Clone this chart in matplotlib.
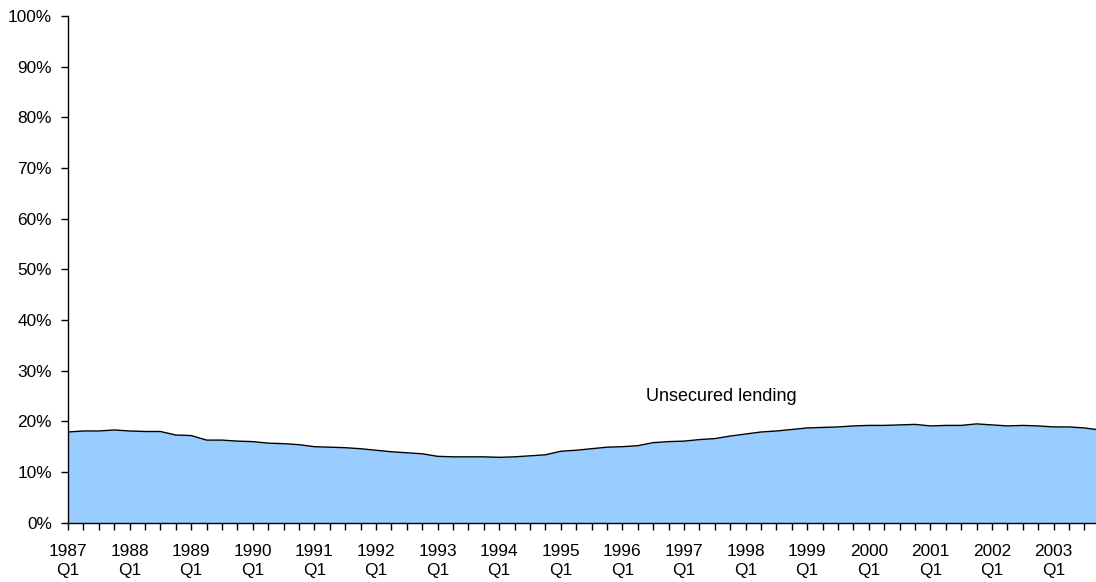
import matplotlib
matplotlib.use("Agg")
import matplotlib.pyplot as plt
import numpy as np

plt.rcParams['font.family'] = ['Liberation Sans', 'DejaVu Sans']

years = list(range(1987, 2004))
quarters = [f"{y} Q{q}" for y in years for q in range(1, 5)]
unsecured = [17.9, 18.1, 18.1, 18.3, 18.1, 18.0, 18.0, 17.3, 17.2, 16.3,
             16.3, 16.1, 16.0, 15.7, 15.6, 15.4, 15.0, 14.9, 14.8, 14.6,
             14.3, 14.0, 13.8, 13.6, 13.1, 13.0, 13.0, 13.0, 12.9, 13.0,
             13.2, 13.4, 14.1, 14.3, 14.6, 14.9, 15.0, 15.2, 15.8, 16.0,
             16.1, 16.4, 16.6, 17.1, 17.5, 17.9, 18.1, 18.4, 18.7, 18.8,
             18.9, 19.1, 19.2, 19.2, 19.3, 19.4, 19.1, 19.2, 19.2, 19.5,
             19.3, 19.1, 19.2, 19.1, 18.9, 18.9, 18.7, 18.3]
series_label = "Unsecured lending"
yticks = list(range(0, 101, 10))
xlabels = [f"{y}\nQ1" for y in years]

W, H = 1096, 582
fig = plt.figure(figsize=(W / 100, H / 100), dpi=100)
x0, x1, ytop, ybot = 68, 1099.8, 16, 522.7
ax = fig.add_axes([x0 / W, (H - ybot) / H, (x1 - x0) / W, (ybot - ytop) / H])

x = np.arange(len(unsecured))
ax.fill_between(x, 0, unsecured, color='#99CCFF', linewidth=0)
ax.plot(x, unsecured, color='black', linewidth=1.0)

ax.set_xlim(0, len(unsecured) - 1)
ax.set_ylim(0, 100)
ax.set_yticks(yticks)
ax.set_yticklabels([f"{v}%" for v in yticks], fontsize=12.4)
ax.set_xticks(np.arange(0, len(unsecured), 4))
ax.set_xticklabels(xlabels, fontsize=12.4, linespacing=1.33)
ax.set_xticks(np.arange(0, len(unsecured)), minor=True)
ax.tick_params(axis='x', which='both', direction='out', length=5, width=1, pad=10.5)
ax.tick_params(axis='y', direction='out', length=5, width=1, pad=6.5)

for s in ['top', 'right']:
    ax.spines[s].set_visible(False)
for s in ['left', 'bottom']:
    ax.spines[s].set_linewidth(1.0)

ax.text(37.5, 25, series_label, fontsize=13, ha='left', va='center')

fig.savefig('out.png', dpi=100)
